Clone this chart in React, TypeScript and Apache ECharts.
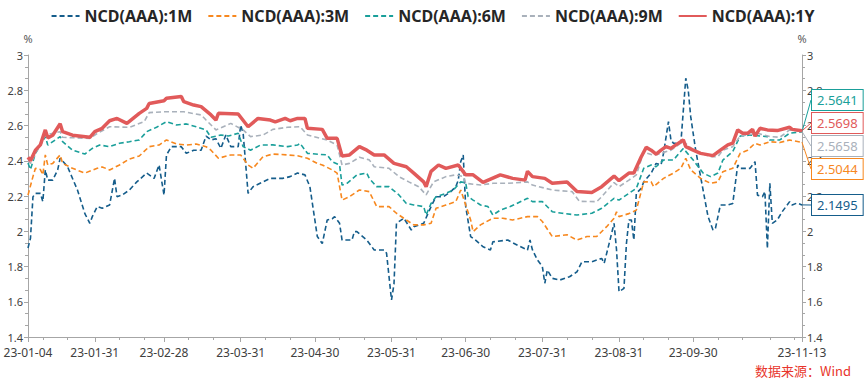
import React, { useEffect, useRef } from "react";
import * as echarts from "echarts";

const YEAR = "2023-";
const AXIS_MIN = "2023-01-04";
const AXIS_MAX = "2023-11-13";

const labelDates = ["2023-01-04","2023-01-31","2023-02-28","2023-03-31","2023-04-30","2023-05-31","2023-06-30","2023-07-31","2023-08-31","2023-09-30","2023-11-13"];
const minorTickDates = ["2023-01-10","2023-01-20","2023-02-10","2023-02-20","2023-03-10","2023-03-20","2023-04-10","2023-04-20","2023-05-10","2023-05-20","2023-06-10","2023-06-20","2023-07-10","2023-07-20","2023-08-10","2023-08-20","2023-09-10","2023-09-20","2023-10-10","2023-10-20","2023-10-31","2023-11-10"];

const seriesNames = ["NCD(AAA):1M", "NCD(AAA):3M", "NCD(AAA):6M", "NCD(AAA):9M", "NCD(AAA):1Y"];
const seriesColors = ["#155d8b", "#f7881f", "#1a9f9a", "#a9b1bb", "#e15a5a"];

const ncd1M: [string, number][] = [["01-04",1.905],["01-05",1.96],["01-06",2.195],["01-07",2.215],["01-09",2.215],["01-10",2.168],["01-11",2.348],["01-12",2.29],["01-14",2.29],["01-16",2.348],["01-17",2.414],["01-20",2.366],["01-24",2.234],["01-27",2.10],["01-29",2.045],["01-30",2.083],["02-01",2.14],["02-03",2.13],["02-06",2.149],["02-08",2.30],["02-09",2.196],["02-11",2.205],["02-14",2.234],["02-17",2.28],["02-21",2.33],["02-24",2.30],["02-26",2.376],["02-28",2.205],["03-01",2.433],["03-03",2.48],["03-07",2.48],["03-09",2.442],["03-12",2.46],["03-15",2.46],["03-17",2.54],["03-19",2.518],["03-21",2.525],["03-23",2.47],["03-25",2.546],["03-27",2.48],["03-30",2.48],["03-31",2.603],["04-01",2.556],["04-03",2.215],["04-05",2.253],["04-09",2.28],["04-12",2.30],["04-17",2.30],["04-20",2.31],["04-23",2.33],["04-26",2.32],["04-28",2.253],["04-29",2.158],["05-01",1.97],["05-03",1.93],["05-05",2.064],["05-07",2.07],["05-08",2.083],["05-10",2.045],["05-11",1.95],["05-15",1.95],["05-16",1.998],["05-17",1.998],["05-21",1.95],["05-24",1.894],["05-28",1.894],["05-29",1.875],["05-31",1.61],["06-01",1.70],["06-02",2.045],["06-05",2.074],["06-08",2.007],["06-09",2.026],["06-13",2.045],["06-16",2.14],["06-18",2.196],["06-21",2.196],["06-24",2.225],["06-26",2.253],["06-27",2.29],["06-28",2.395],["06-29",2.433],["06-30",2.14],["07-02",1.97],["07-04",1.95],["07-07",1.912],["07-10",1.894],["07-11",1.94],["07-17",1.95],["07-21",1.92],["07-25",1.894],["07-26",1.95],["07-27",1.894],["07-29",1.837],["07-31",1.80],["08-01",1.705],["08-02",1.78],["08-04",1.733],["08-07",1.723],["08-11",1.742],["08-14",1.77],["08-16",1.827],["08-20",1.827],["08-24",1.846],["08-25",1.818],["08-27",1.93],["08-29",2.045],["08-30",1.894],["08-31",1.657],["09-02",1.676],["09-03",1.93],["09-04",2.064],["09-05",2.064],["09-06",1.95],["09-07",2.215],["09-09",2.243],["09-10",2.28],["09-13",2.33],["09-15",2.385],["09-17",2.376],["09-18",2.442],["09-20",2.622],["09-21",2.518],["09-22",2.499],["09-25",2.499],["09-27",2.868],["09-28",2.80],["09-29",2.65],["10-01",2.46],["10-04",2.234],["10-06",2.083],["10-08",2.007],["10-09",2.017],["10-11",2.149],["10-14",2.149],["10-16",2.158],["10-18",2.376],["10-19",2.357],["10-23",2.357],["10-25",2.395],["10-26",2.205],["10-28",2.196],["10-29",2.225],["10-30",1.902],["10-31",2.272],["11-01",2.045],["11-03",2.064],["11-05",2.111],["11-08",2.168],["11-09",2.149],["11-11",2.16],["11-13",2.1495]];

const ncd3M: [string, number][] = [["01-04",2.205],["01-06",2.31],["01-07",2.357],["01-09",2.35],["01-10",2.32],["01-11",2.433],["01-12",2.376],["01-14",2.385],["01-17",2.433],["01-18",2.385],["01-22",2.357],["01-27",2.33],["02-01",2.357],["02-03",2.365],["02-06",2.348],["02-10",2.376],["02-14",2.41],["02-18",2.427],["02-22",2.48],["02-26",2.489],["03-01",2.518],["03-05",2.495],["03-09",2.489],["03-13",2.495],["03-17",2.48],["03-19",2.46],["03-22",2.414],["03-27",2.433],["03-31",2.433],["04-03",2.376],["04-05",2.357],["04-09",2.423],["04-13",2.438],["04-19",2.433],["04-23",2.428],["04-27",2.414],["05-01",2.385],["05-03",2.376],["05-07",2.348],["05-09",2.33],["05-11",2.177],["05-14",2.196],["05-18",2.234],["05-22",2.225],["05-25",2.14],["05-30",2.14],["06-02",2.102],["06-06",2.064],["06-09",2.036],["06-13",2.036],["06-16",2.045],["06-18",2.13],["06-22",2.149],["06-26",2.168],["06-28",2.234],["06-30",2.149],["07-02",2.064],["07-03",1.998],["07-06",2.036],["07-11",2.074],["07-15",2.074],["07-19",2.064],["07-25",2.083],["07-29",2.083],["07-31",2.055],["08-04",1.97],["08-10",1.98],["08-14",1.95],["08-18",1.97],["08-22",1.97],["08-26",2.026],["08-29",2.074],["08-30",2.11],["08-31",2.083],["09-04",2.10],["09-07",2.12],["09-10",2.28],["09-13",2.28],["09-14",2.253],["09-18",2.30],["09-22",2.33],["09-25",2.357],["09-27",2.414],["09-29",2.348],["10-03",2.30],["10-07",2.272],["10-10",2.28],["10-12",2.338],["10-16",2.357],["10-19",2.442],["10-22",2.46],["10-25",2.499],["10-27",2.489],["10-31",2.508],["11-04",2.503],["11-08",2.518],["11-13",2.5044]];

const ncd6M: [string, number][] = [["01-04",2.387],["01-05",2.35],["01-07",2.442],["01-11",2.537],["01-12",2.489],["01-17",2.537],["01-18",2.508],["01-22",2.46],["01-27",2.438],["01-30",2.47],["02-02",2.489],["02-06",2.48],["02-10",2.499],["02-14",2.508],["02-18",2.518],["02-21",2.565],["02-25",2.59],["03-01",2.622],["03-05",2.603],["03-09",2.609],["03-13",2.593],["03-17",2.575],["03-19",2.533],["03-23",2.546],["03-26",2.54],["03-30",2.556],["04-01",2.48],["04-04",2.46],["04-08",2.489],["04-13",2.49],["04-19",2.48],["04-23",2.489],["04-24",2.499],["04-27",2.442],["05-05",2.433],["05-07",2.395],["05-10",2.376],["05-11",2.262],["05-13",2.272],["05-17",2.32],["05-21",2.33],["05-22",2.30],["05-25",2.253],["05-30",2.253],["06-03",2.206],["06-06",2.158],["06-09",2.149],["06-13",2.14],["06-14",2.092],["06-16",2.158],["06-18",2.196],["06-22",2.215],["06-25",2.234],["06-28",2.28],["06-30",2.275],["07-01",2.196],["07-03",2.177],["07-06",2.149],["07-09",2.14],["07-11",2.092],["07-14",2.12],["07-18",2.14],["07-25",2.187],["07-27",2.168],["07-31",2.168],["08-04",2.111],["08-08",2.102],["08-14",2.092],["08-20",2.102],["08-24",2.13],["08-29",2.187],["08-31",2.177],["09-04",2.215],["09-07",2.243],["09-10",2.357],["09-13",2.376],["09-15",2.366],["09-18",2.404],["09-22",2.404],["09-26",2.47],["09-30",2.404],["10-04",2.33],["10-07",2.31],["10-10",2.33],["10-12",2.404],["10-16",2.452],["10-19",2.54],["10-23",2.546],["10-30",2.537],["10-31",2.518],["11-04",2.518],["11-08",2.556],["11-13",2.5641]];

const ncd9M: [string, number][] = [["01-04",2.40],["01-05",2.385],["01-11",2.546],["01-17",2.565],["01-18",2.533],["01-29",2.527],["02-01",2.555],["02-06",2.593],["02-14",2.59],["02-20",2.622],["02-22",2.673],["02-28",2.678],["03-08",2.678],["03-15",2.66],["03-17",2.631],["03-21",2.575],["03-27",2.612],["04-01",2.575],["04-04",2.537],["04-09",2.546],["04-13",2.578],["04-19",2.59],["04-24",2.593],["04-27",2.546],["05-05",2.518],["05-09",2.489],["05-11",2.376],["05-14",2.385],["05-18",2.42],["05-22",2.405],["05-24",2.366],["05-30",2.357],["06-03",2.31],["06-07",2.28],["06-11",2.253],["06-14",2.206],["06-17",2.28],["06-22",2.31],["06-26",2.32],["06-29",2.31],["06-30",2.272],["07-06",2.262],["07-11",2.272],["07-17",2.272],["07-25",2.28],["07-27",2.262],["08-04",2.234],["08-12",2.225],["08-15",2.17],["08-22",2.168],["08-24",2.196],["08-29",2.276],["08-31",2.253],["09-04",2.29],["09-07",2.32],["09-10",2.45],["09-14",2.43],["09-17",2.442],["09-21",2.46],["09-26",2.51],["09-30",2.46],["10-07",2.423],["10-10",2.423],["10-12",2.46],["10-16",2.48],["10-19",2.54],["10-26",2.556],["10-31",2.537],["11-04",2.533],["11-08",2.575],["11-13",2.5658]];

const ncd1Y: [string, number][] = [["01-04",2.42],["01-05",2.40],["01-07",2.46],["01-09",2.49],["01-11",2.575],["01-12",2.53],["01-14",2.545],["01-17",2.61],["01-18",2.565],["01-22",2.545],["01-29",2.533],["01-31",2.565],["02-03",2.584],["02-06",2.627],["02-09",2.64],["02-13",2.612],["02-18",2.669],["02-21",2.697],["02-22",2.725],["02-28",2.74],["03-01",2.754],["03-07",2.764],["03-08",2.735],["03-12",2.716],["03-15",2.707],["03-19",2.66],["03-21",2.631],["03-22",2.669],["03-30",2.665],["04-03",2.593],["04-07",2.64],["04-12",2.631],["04-14",2.62],["04-18",2.64],["04-20",2.627],["04-23",2.64],["04-26",2.64],["04-27",2.584],["05-03",2.578],["05-05",2.527],["05-09",2.527],["05-11",2.427],["05-14",2.433],["05-18",2.48],["05-21",2.46],["05-24",2.433],["05-28",2.433],["06-01",2.385],["06-06",2.366],["06-09",2.33],["06-13",2.28],["06-14",2.253],["06-16",2.34],["06-19",2.376],["06-22",2.357],["06-27",2.376],["06-28",2.357],["06-30",2.32],["07-03",2.32],["07-07",2.277],["07-14",2.32],["07-19",2.30],["07-24",2.29],["07-25",2.34],["07-27",2.31],["08-01",2.30],["08-04",2.272],["08-10",2.28],["08-14",2.225],["08-20",2.22],["08-24",2.253],["08-29",2.313],["08-31",2.287],["09-04",2.33],["09-06",2.33],["09-09",2.423],["09-11",2.476],["09-13",2.46],["09-15",2.438],["09-17",2.46],["09-19",2.48],["09-21",2.47],["09-23",2.49],["09-26",2.518],["09-27",2.48],["09-30",2.46],["10-03",2.442],["10-08",2.429],["10-11",2.46],["10-14",2.49],["10-16",2.50],["10-18",2.575],["10-20",2.556],["10-22",2.556],["10-24",2.578],["10-25",2.54],["10-27",2.584],["10-30",2.575],["11-03",2.571],["11-08",2.59],["11-09",2.578],["11-13",2.5698]];

const seriesData = [ncd1M, ncd3M, ncd6M, ncd9M, ncd1Y];
// vertical centre (px) of each end-value callout box
const endLabelY = [205, 169, 100, 146, 123];

const FONT = '"Noto Sans", "Open Sans", sans-serif';
const AXIS_COLOR = "#a6a6a6";
const TEXT_COLOR = "#404040";

const ts = (s: string) => echarts.time.parse(s).getTime();
const pad = (n: number) => (n < 10 ? "0" + n : "" + n);
const fmtDate = (v: number) => {
  const d = new Date(v);
  return String(d.getFullYear()).slice(2) + "-" + pad(d.getMonth() + 1) + "-" + pad(d.getDate());
};

function buildOption() {
  const series = seriesData.map((rows, i) => {
    const color = seriesColors[i];
    const isMain = i === 4;
    const data = rows.map((r, k) => {
      const v = [ts(YEAR + r[0]), r[1]];
      if (k === rows.length - 1) {
        return {
          value: v,
          symbol: "circle",
          symbolSize: 1,
          label: { show: true },
        };
      }
      return v;
    });
    return {
      name: seriesNames[i],
      type: "line",
      xAxisIndex: 0,
      yAxisIndex: 0,
      symbol: "none",
      showSymbol: true,
      z: isMain ? 5 : 3,
      data,
      itemStyle: { color },
      lineStyle: isMain
        ? { color, width: 3.5, type: "solid" }
        : { color, width: 1.6, type: [5, 3] },
      label: {
        show: false,
        formatter: (p: any) => Number(p.value[1]).toFixed(4),
        color,
        fontFamily: FONT,
        fontSize: 13,
        backgroundColor: "#fff",
        borderColor: color,
        borderWidth: 1,
        padding: [4, 5, 3, 5],
      },
      labelLine: { show: true, lineStyle: { color, width: 1 } },
      labelLayout: { x: 812, y: endLabelY[i], align: "left", verticalAlign: "middle" },
    };
  });

  const yAxisBase = (position: "left" | "right") => ({
    type: "value",
    position,
    min: 1.4,
    max: 3,
    interval: 0.2,
    name: "%",
    nameLocation: "end",
    nameGap: 11,
    nameTextStyle: { color: "#595959", fontSize: 11, fontFamily: FONT, align: "center" },
    axisLine: { show: true, lineStyle: { color: AXIS_COLOR, width: 1 } },
    axisTick: { show: true, length: 4, lineStyle: { color: AXIS_COLOR } },
    minorTick: { show: true, splitNumber: 3, length: 3, lineStyle: { color: AXIS_COLOR } },
    axisLabel: { color: TEXT_COLOR, fontSize: 11, fontFamily: FONT, margin: 5 },
    splitLine: { show: false },
    minorSplitLine: { show: false },
  });

  const xMin = ts(AXIS_MIN);
  const xMax = ts(AXIS_MAX);

  return {
    animation: false,
    backgroundColor: "#ffffff",
    textStyle: { fontFamily: FONT },
    legend: {
      top: 3,
      left: "center",
      itemWidth: 28,
      itemHeight: 14,
      itemGap: 15,
      data: seriesNames,
      itemStyle: { opacity: 0 },
      textStyle: { color: "#262626", fontSize: 16, fontWeight: "bold", fontFamily: FONT },
    },
    grid: { left: 28, right: 63, top: 55, bottom: 48, containLabel: false },
    xAxis: [
      {
        type: "value",
        min: xMin,
        max: xMax,
        axisLine: { show: true, lineStyle: { color: AXIS_COLOR, width: 1 } },
        axisTick: { show: true, length: 5, customValues: labelDates.map(ts), lineStyle: { color: AXIS_COLOR } },
        axisLabel: {
          show: true,
          customValues: labelDates.map(ts),
          color: TEXT_COLOR,
          fontSize: 12,
          fontFamily: FONT,
          margin: 9,
          hideOverlap: false,
          formatter: (v: number) => fmtDate(v),
        },
        splitLine: { show: false },
      },
      {
        type: "value",
        position: "bottom",
        min: xMin,
        max: xMax,
        axisLine: { show: false },
        axisTick: { show: true, length: 3, customValues: minorTickDates.map(ts), lineStyle: { color: AXIS_COLOR } },
        axisLabel: { show: false },
        splitLine: { show: false },
      },
    ],
    yAxis: [yAxisBase("left"), yAxisBase("right")],
    series,
    graphic: [
      {
        type: "text",
        right: 14,
        top: 364,
        style: {
          text: "数据来源：Wind",
          fill: "#e8352b",
          font: '13px "Noto Sans CJK SC", "Noto Sans", sans-serif',
        },
      },
    ],
  };
}

export default function App() {
  const ref = useRef<HTMLDivElement>(null);
  useEffect(() => {
    if (!ref.current) return;
    const chart = echarts.init(ref.current, null, { renderer: "svg" });
    chart.setOption(buildOption() as any);
    return () => chart.dispose();
  }, []);
  return (
    <div
      ref={ref}
      style={{ position: "fixed", left: 0, top: 0, width: 865, height: 385, background: "#fff" }}
    />
  );
}
